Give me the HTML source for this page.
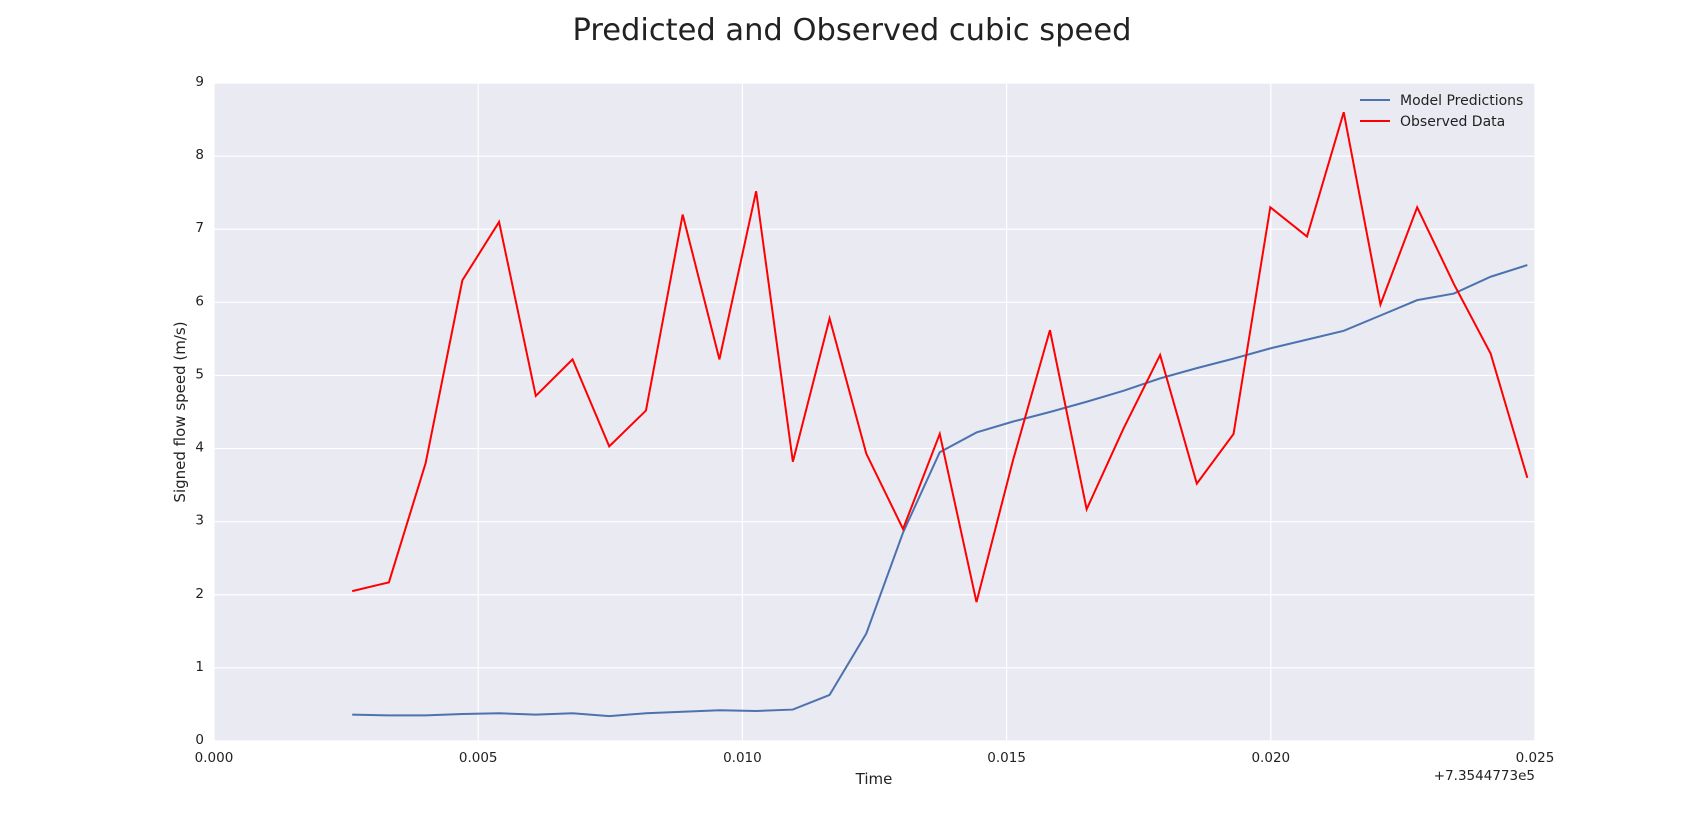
<!DOCTYPE html>
<html><head><meta charset="utf-8"><style>
html,body{margin:0;padding:0;background:#fff;}
svg{display:block;font-family:"DejaVu Sans","Liberation Sans",sans-serif;}
</style></head><body>
<svg id="chart" width="1705" height="823" viewBox="0 0 1705 823">
<text x="852" y="40" text-anchor="middle" font-size="30.5" fill="#222">Predicted and Observed cubic speed</text>
<rect x="214" y="83" width="1321" height="658" fill="#eaeaf2"/>
<g id="grid"></g>
<g id="ticks"></g>
<g id="series"></g>
<text x="874" y="784" text-anchor="middle" font-size="15" fill="#222">Time</text>
<text x="0" y="0" transform="translate(185,412) rotate(-90)" text-anchor="middle" font-size="15" fill="#222">Signed flow speed (m/s)</text>
<text x="1535" y="780" text-anchor="end" font-size="13.5" fill="#222">+7.3544773e5</text>
<g>
<line x1="1360" y1="100" x2="1390" y2="100" stroke="#4c72b0" stroke-width="2"/>
<text x="1400" y="105" font-size="14" fill="#222">Model Predictions</text>
<line x1="1360" y1="121" x2="1390" y2="121" stroke="#ff0000" stroke-width="2"/>
<text x="1400" y="126" font-size="14" fill="#222">Observed Data</text>
</g>
</svg>
<script>
const xTicks=[0,0.005,0.010,0.015,0.020,0.025];
const xTickLabels=["0.000","0.005","0.010","0.015","0.020","0.025"];
const yTicks=[0,1,2,3,4,5,6,7,8,9];
const times=[0.002615,0.00331,0.004005,0.0047,0.005395,0.00609,0.006785,0.00748,0.008175,0.00887,0.009565,0.01026,0.010955,0.01165,0.012345,0.01304,0.013735,0.01443,0.015125,0.01582,0.016515,0.01721,0.017905,0.0186,0.019295,0.01999,0.020685,0.02138,0.022075,0.02277,0.023465,0.02416,0.024855];
const observed=[2.05,2.17,3.8,6.3,7.1,4.72,5.22,4.03,4.52,7.2,5.22,7.52,3.82,5.78,3.93,2.9,4.2,1.9,3.85,5.62,3.17,4.27,5.28,3.52,4.2,7.3,6.9,8.6,5.97,7.3,6.25,5.3,3.6];
const model=[0.36,0.35,0.35,0.37,0.38,0.36,0.38,0.34,0.38,0.40,0.42,0.41,0.43,0.63,1.47,2.85,3.95,4.22,4.37,4.5,4.64,4.79,4.96,5.1,5.23,5.37,5.49,5.61,5.82,6.03,6.12,6.35,6.51];
const L=214,R=1535,T=83,B=741;
const xs=v=>L+v/0.025*(R-L);
const ys=v=>B-v/9*(B-T);
const NS="http://www.w3.org/2000/svg";
const grid=document.getElementById('grid'),ticks=document.getElementById('ticks'),series=document.getElementById('series');
function mk(tag,attrs,parent){const e=document.createElementNS(NS,tag);for(const k in attrs)e.setAttribute(k,attrs[k]);parent.appendChild(e);return e;}
xTicks.forEach((t,i)=>{
 const g=mk('line',{x1:xs(t),x2:xs(t),y1:T,y2:B,stroke:'#fff','stroke-width':1.2},grid);
 
 
 const tx=mk('text',{x:xs(t),y:762,'text-anchor':'middle','font-size':13.5,fill:'#222'},ticks);
 tx.textContent=xTickLabels[i];
 
 
});
yTicks.forEach(t=>{
 const g=mk('line',{x1:L,x2:R,y1:ys(t),y2:ys(t),stroke:'#fff','stroke-width':1.2},grid);
 
 
 const tx=mk('text',{x:204,y:ys(t)+3,'text-anchor':'end','font-size':13.5,fill:'#222'},ticks);
 tx.textContent=String(t);
 
 
});
const mp=mk('polyline',{points:times.map((t,i)=>xs(t)+','+ys(model[i])).join(' '),fill:'none',stroke:'#4c72b0','stroke-width':2},series);


const op=mk('polyline',{points:times.map((t,i)=>xs(t)+','+ys(observed[i])).join(' '),fill:'none',stroke:'#ff0000','stroke-width':2},series);


</script>
</body></html>
